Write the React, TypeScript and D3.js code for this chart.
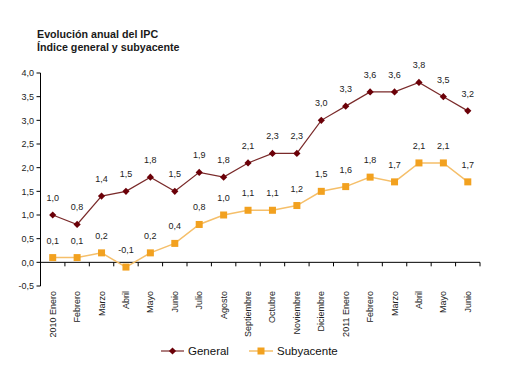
import React from "react";
import * as d3 from "d3";

const categories = ["2010 Enero","Febrero","Marzo","Abril","Mayo","Junio","Julio","Agosto","Septiembre","Octubre","Noviembre","Diciembre","2011 Enero","Febrero","Marzo","Abril","Mayo","Junio"];
const general = [1.0,0.8,1.4,1.5,1.8,1.5,1.9,1.8,2.1,2.3,2.3,3.0,3.3,3.6,3.6,3.8,3.5,3.2];
const subyacente = [0.1,0.1,0.2,-0.1,0.2,0.4,0.8,1.0,1.1,1.1,1.2,1.5,1.6,1.8,1.7,2.1,2.1,1.7];
const yTicks = [-0.5,0,0.5,1,1.5,2,2.5,3,3.5,4];
const titleLines = ["Evolución anual del IPC", "Índice general y subyacente"];

const W = 520, H = 383;
const left = 40.5, right = 480, top = 73, bottom = 286;
const genLine = "#7a2a2a", genMark = "#6b0008";
const subLine = "#f5bf6a", subMark = "#f2a11f";
const font = "'Liberation Sans', Arial, sans-serif";
const fmt = (v: number) => v.toFixed(1).replace(".", ",");

export default function App() {
  const x = d3.scaleBand<number>().domain(d3.range(categories.length)).range([left, right]);
  const y = d3.scaleLinear().domain([-0.5, 4]).range([bottom, top]);
  const cx = (i: number) => (x(i) as number) + x.bandwidth() / 2;
  const line = d3.line<number>().x((_, i) => cx(i)).y((d) => y(d));
  const y0 = y(0);
  const boundaries = d3.range(categories.length + 1).map((i) => left + i * x.bandwidth());
  const diamond = (px: number, py: number, r = 3.6) => `M${px},${py - r}L${px + r},${py}L${px},${py + r}L${px - r},${py}Z`;

  return (
    <div style={{ position: "absolute", left: 0, top: 0 }}>
      <svg width={W} height={H} style={{ display: "block", background: "#fff" }} fontFamily={font}>
        {titleLines.map((t, i) => (
          <text key={i} x={37} y={37.5 + i * 13} fontSize={10.7} fontWeight="bold" fill="#1a1a1a">{t}</text>
        ))}
        {/* y axis */}
        <line x1={left} x2={left} y1={top} y2={bottom} stroke="#000" strokeWidth={1} />
        {yTicks.map((t) => (
          <g key={t}>
            <line x1={left - 4} x2={left} y1={y(t)} y2={y(t)} stroke="#000" />
            <text x={34} y={y(t) + 3.2} fontSize={9} textAnchor="end" fill="#222">{fmt(t)}</text>
          </g>
        ))}
        {/* x axis at zero */}
        <line x1={left} x2={right} y1={y0} y2={y0} stroke="#000" />
        {boundaries.map((b, i) => (
          <line key={i} x1={b} x2={b} y1={y0} y2={y0 + 4} stroke="#000" />
        ))}
        {categories.map((c, i) => (
          <text key={i} transform={`translate(${cx(i) + 3},291) rotate(-90)`} fontSize={9} textAnchor="end" fill="#222">{c}</text>
        ))}
        {/* series */}
        <path d={line(subyacente) || ""} fill="none" stroke={subLine} strokeWidth={1.5} />
        <path d={line(general) || ""} fill="none" stroke={genLine} strokeWidth={1.2} />
        {subyacente.map((v, i) => (
          <rect key={i} x={cx(i) - 3.5} y={y(v) - 3.5} width={7} height={7} fill={subMark} />
        ))}
        {general.map((v, i) => (
          <path key={i} d={diamond(cx(i), y(v))} fill={genMark} />
        ))}
        {subyacente.map((v, i) => (
          <text key={i} x={cx(i)} y={y(v) - 14} fontSize={9} textAnchor="middle" fill="#222">{fmt(v)}</text>
        ))}
        {general.map((v, i) => (
          <text key={i} x={cx(i)} y={y(v) - 14} fontSize={9} textAnchor="middle" fill="#222">{fmt(v)}</text>
        ))}
        {/* legend */}
        <line x1={161} x2={184} y1={351} y2={351} stroke={genLine} strokeWidth={1.2} />
        <path d={diamond(172.5, 351)} fill={genMark} />
        <text x={188} y={355} fontSize={11.5} fill="#111">General</text>
        <line x1={249} x2={273} y1={351} y2={351} stroke={subLine} strokeWidth={1.5} />
        <rect x={257.5} y={347.5} width={7} height={7} fill={subMark} />
        <text x={277} y={355} fontSize={11.5} fill="#111">Subyacente</text>
      </svg>
    </div>
  );
}
